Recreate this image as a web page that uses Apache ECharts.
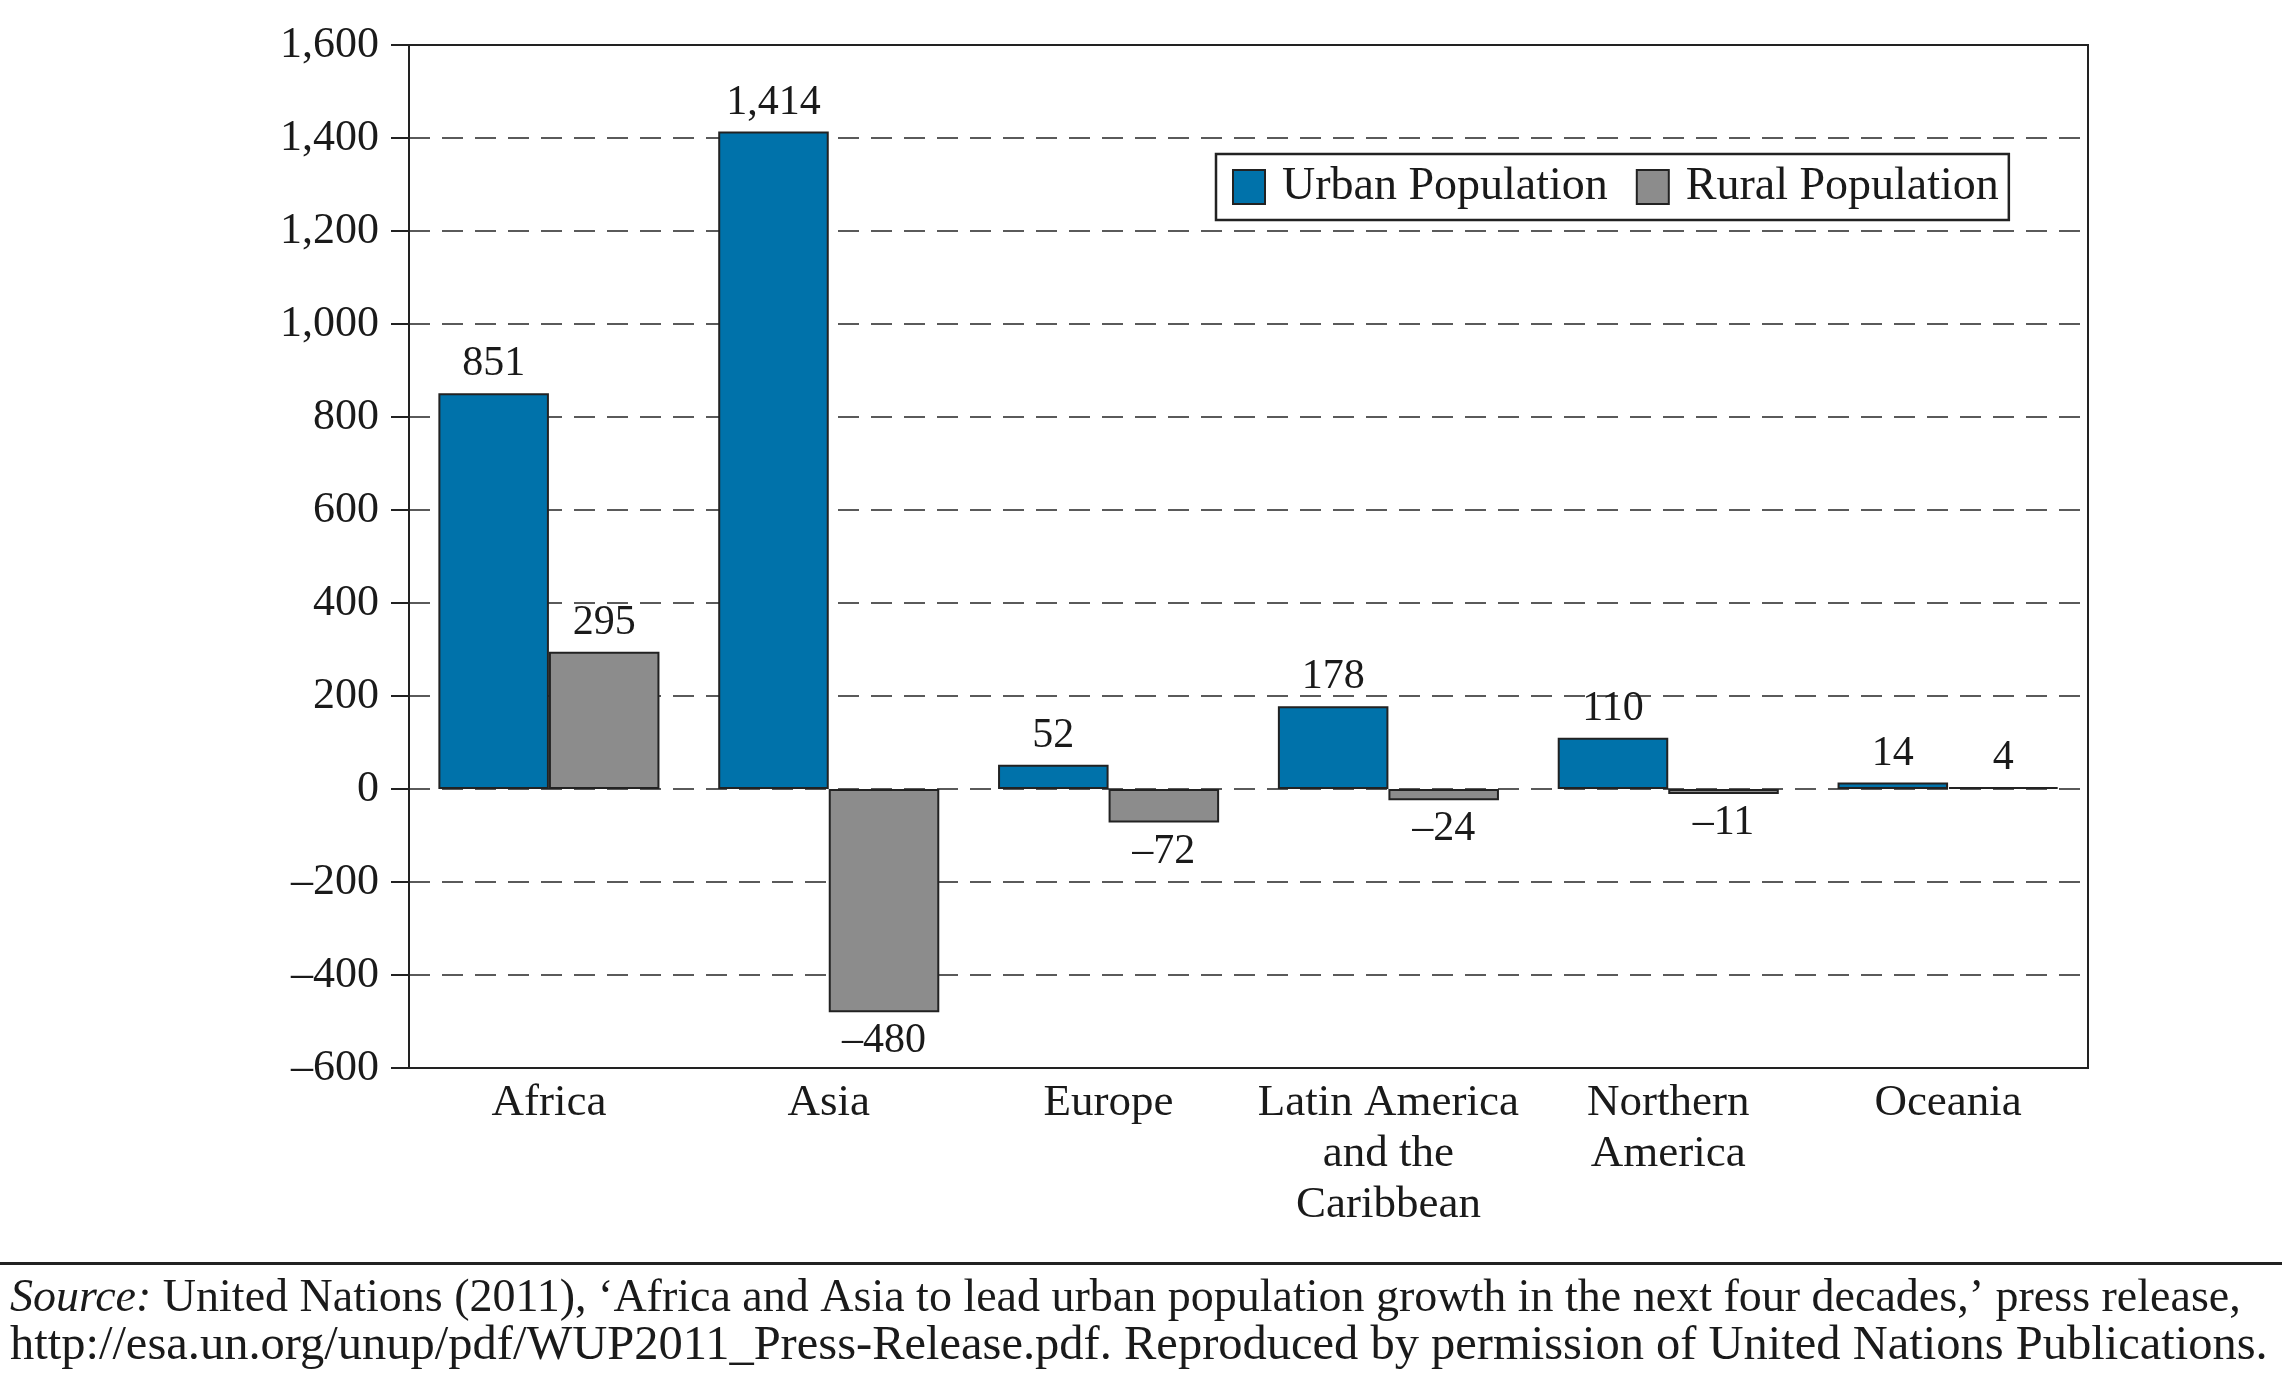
<!DOCTYPE html>
<html>
<head>
<meta charset="utf-8">
<script src="https://cdn.jsdelivr.net/npm/echarts@6/dist/echarts.min.js"></script>
<style>
html,body{margin:0;padding:0;background:#fff;}
#chart{width:2282px;height:1382px;}
</style>
</head>
<body>
<div id="chart"></div>
<script>
const categories = ['Africa', 'Asia', 'Europe', 'Latin America\nand the\nCaribbean', 'Northern\nAmerica', 'Oceania'];
const urbanValues = [851, 1414, 52, 178, 110, 14];
const ruralValues = [295, -480, -72, -24, -11, 4];
const seriesNames = ['Urban Population', 'Rural Population'];
const sourceLine1 = 'United Nations (2011), ‘Africa and Asia to lead urban population growth in the next four decades,’ press release,';
const sourceLine2 = 'http://esa.un.org/unup/pdf/WUP2011_Press-Release.pdf. Reproduced by permission of United Nations Publications.';

const FONT = 'Liberation Serif';
const INK = '#1a1a1a';

function fmt(v) {
  const s = Math.abs(v).toLocaleString('en-US');
  return v < 0 ? '–' + s : s;
}

function buildData(values) {
  return values.map(v => ({
    value: v,
    label: { position: v < 0 ? 'bottom' : 'top' }
  }));
}

const chart = echarts.init(document.getElementById('chart'));
chart.setOption({
  backgroundColor: '#fff',
  animation: false,
  textStyle: { fontFamily: FONT, color: INK },
  grid: {
    left: 409, right: 194, top: 45, bottom: 314,
    show: true, borderColor: '#222', borderWidth: 2, backgroundColor: 'transparent'
  },
  legend: {
    left: 1216, top: 154,
    orient: 'horizontal',
    icon: 'rect',
    itemWidth: 32, itemHeight: 34,
    itemGap: 28,
    padding: [10, 10, 10, 16],
    borderColor: '#222', borderWidth: 2.5,
    backgroundColor: '#fff',
    textStyle: { fontFamily: FONT, fontSize: 46, color: INK, padding: [0, 0, 0, 12] },
    data: seriesNames
  },
  xAxis: {
    type: 'category',
    data: categories,
    axisLine: { onZero: false, lineStyle: { color: '#222', width: 2 } },
    axisTick: { show: false },
    axisLabel: { interval: 0, fontFamily: FONT, fontSize: 45, color: INK, lineHeight: 51, margin: 10 }
  },
  yAxis: {
    type: 'value',
    min: -600, max: 1600, interval: 200,
    axisLine: { show: true, lineStyle: { color: '#222', width: 2 } },
    axisTick: { show: true, length: 18, lineStyle: { color: '#222', width: 2 } },
    axisLabel: { fontFamily: FONT, fontSize: 44, color: INK, margin: 30, formatter: fmt },
    splitLine: {
      show: true, showMinLine: false, showMaxLine: false,
      lineStyle: { color: '#5a5a5a', width: 2, type: [21, 12] }
    }
  },
  series: [
    {
      name: seriesNames[0], type: 'bar',
      data: buildData(urbanValues),
      barGap: '0%', barCategoryGap: '21%',
      itemStyle: { color: '#0072AA', borderColor: '#222', borderWidth: 2 },
      label: { show: true, fontFamily: FONT, fontSize: 42, color: INK, distance: 8, formatter: p => fmt(p.value) }
    },
    {
      name: seriesNames[1], type: 'bar',
      data: buildData(ruralValues),
      barGap: '0%', barCategoryGap: '21%',
      itemStyle: { color: '#8C8C8C', borderColor: '#222', borderWidth: 2 },
      label: { show: true, fontFamily: FONT, fontSize: 42, color: INK, distance: 8, formatter: p => fmt(p.value) }
    }
  ],
  graphic: [
    { type: 'rect', shape: { x: 0, y: 1262, width: 2282, height: 3 }, style: { fill: '#222' } },
    {
      type: 'text', left: 10, top: 1276,
      style: {
        text: '{i|Source:} ' + sourceLine1,
        fontFamily: FONT, fontSize: 46, fill: INK,
        rich: { i: { fontStyle: 'italic', fontFamily: FONT, fontSize: 46, fill: INK } }
      }
    },
    {
      type: 'text', left: 10, top: 1322,
      style: { text: sourceLine2, fontFamily: FONT, fontSize: 48.5, fill: INK }
    }
  ]
});
</script>
</body>
</html>
